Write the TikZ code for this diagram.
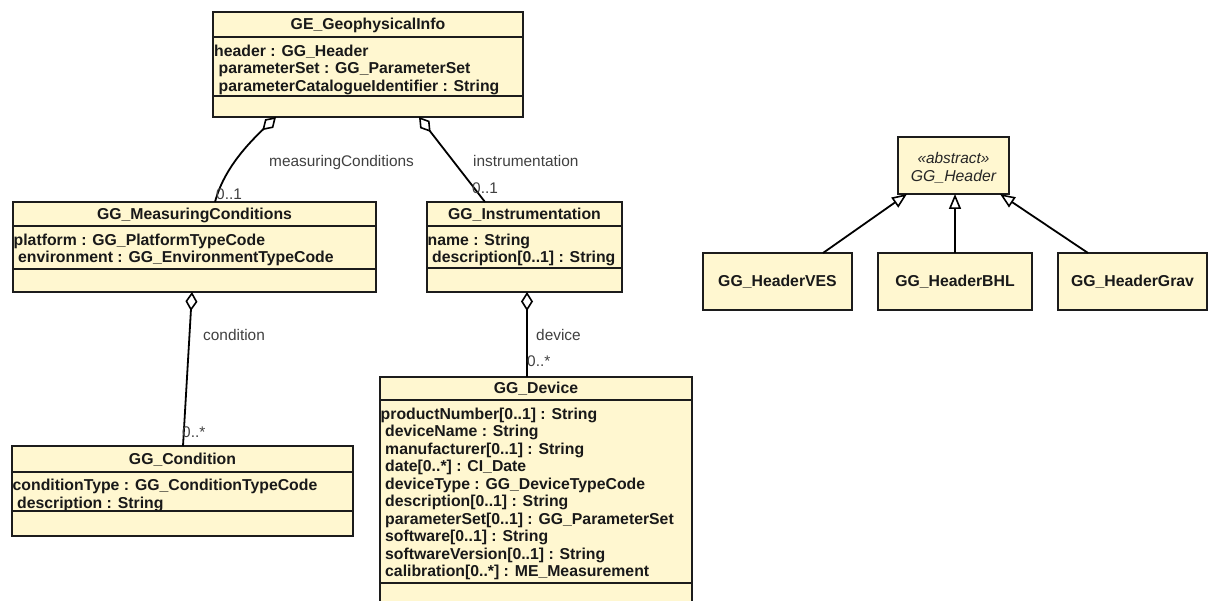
\documentclass[tikz,border=0pt]{standalone}
\usepackage{fontspec}
\setmainfont{Liberation Sans}
\usetikzlibrary{arrows.meta}
\definecolor{classfill}{RGB}{255,247,208}
\definecolor{edge}{RGB}{28,28,28}
% stack of attribute lines; the first line carries the baseline
\newcommand{\firstattr}[1]{\hbox{#1}}
\newcommand{\nextattr}[1]{\hbox{\hspace*{4.5pt}#1}}
\newcommand{\attrstack}[1]{\vtop{\baselineskip=17.5pt\lineskiplimit=-10pt #1}}

\begin{document}
\begin{tikzpicture}[x=1pt,y=-1pt,
  classbox/.style={draw=edge, line width=1.8pt, fill=classfill, rectangle,
    inner sep=0pt, outer sep=0pt, anchor=north west},
  sepline/.style={draw=edge, line width=1.6pt},
  cname/.style={font=\bfseries\fontsize{15.8}{17.5}\selectfont, anchor=base,
    inner sep=0pt, text=black!90},
  attrs/.style={font=\bfseries\fontsize{15.8}{17.5}\selectfont, anchor=base west,
    inner sep=0pt, text=black!90},
  role/.style={font=\fontsize{15.4}{17}\selectfont, anchor=base west,
    inner sep=0pt, text=black!75},
  agg/.style={draw=black, line width=1.8pt,
    {Diamond[open,length=19pt,width=12pt,line width=1.6pt]}-},
  gen/.style={draw=black, line width=1.8pt,
    -{Triangle[open,length=15pt,width=12pt,line width=1.6pt]}},
]
\useasboundingbox (0,0) rectangle (1208,601);
\clip (0,0) rectangle (1208,601);
\fill[white] (0,0) rectangle (1208,601);

% ---------- GE_GeophysicalInfo ----------
\node[classbox, minimum width=310pt, minimum height=105pt] (geo) at (213,12) {};
\draw[sepline] ([yshift=-25pt]geo.north west) -- ([yshift=-25pt]geo.north east);
\draw[sepline] ([yshift=-84pt]geo.north west) -- ([yshift=-84pt]geo.north east);
\node[cname] (geo-n) at (368,30) {GE\_GeophysicalInfo};
\node[attrs] (geo-a) at (214,56.5) {\attrstack{%
  \firstattr{header : GG\_Header}
  \nextattr{parameterSet : GG\_ParameterSet}
  \nextattr{parameterCatalogueIdentifier : String}}};

% ---------- GG_MeasuringConditions ----------
\node[classbox, minimum width=363pt, minimum height=90pt] (meas) at (13,202) {};
\draw[sepline] ([yshift=-24pt]meas.north west) -- ([yshift=-24pt]meas.north east);
\draw[sepline] ([yshift=-67pt]meas.north west) -- ([yshift=-67pt]meas.north east);
\node[cname] (meas-n) at (194.5,219.5) {GG\_MeasuringConditions};
\node[attrs] (meas-a) at (13.5,245.5) {\attrstack{%
  \firstattr{platform : GG\_PlatformTypeCode}
  \nextattr{environment : GG\_EnvironmentTypeCode}}};

% ---------- GG_Instrumentation ----------
\node[classbox, minimum width=195pt, minimum height=90pt] (instr) at (427,202) {};
\draw[sepline] ([yshift=-24pt]instr.north west) -- ([yshift=-24pt]instr.north east);
\draw[sepline] ([yshift=-66pt]instr.north west) -- ([yshift=-66pt]instr.north east);
\node[cname] (instr-n) at (524.5,219.5) {GG\_Instrumentation};
\node[attrs] (instr-a) at (427.5,245.5) {\attrstack{%
  \firstattr{name : String}
  \nextattr{description[0..1] : String}}};

% ---------- GG_Condition ----------
\node[classbox, minimum width=341pt, minimum height=90pt] (cond) at (12,446) {};
\draw[sepline] ([yshift=-26pt]cond.north west) -- ([yshift=-26pt]cond.north east);
\draw[sepline] ([yshift=-65pt]cond.north west) -- ([yshift=-65pt]cond.north east);
\node[cname] (cond-n) at (182.5,464.5) {GG\_Condition};
\node[attrs] (cond-a) at (12.5,490.5) {\attrstack{%
  \firstattr{conditionType : GG\_ConditionTypeCode}
  \nextattr{description : String}}};

% ---------- GG_Device ----------
\node[classbox, minimum width=312pt, minimum height=250pt] (dev) at (380,377) {};
\draw[sepline] ([yshift=-23pt]dev.north west) -- ([yshift=-23pt]dev.north east);
\draw[sepline] ([yshift=-206pt]dev.north west) -- ([yshift=-206pt]dev.north east);
\node[cname] (dev-n) at (536,394) {GG\_Device};
\node[attrs] (dev-a) at (380.5,419.5) {\attrstack{%
  \firstattr{productNumber[0..1] : String}
  \nextattr{deviceName : String}
  \nextattr{manufacturer[0..1] : String}
  \nextattr{date[0..*] : CI\_Date}
  \nextattr{deviceType : GG\_DeviceTypeCode}
  \nextattr{description[0..1] : String}
  \nextattr{parameterSet[0..1] : GG\_ParameterSet}
  \nextattr{software[0..1] : String}
  \nextattr{softwareVersion[0..1] : String}
  \nextattr{calibration[0..*] : ME\_Measurement}}};

% ---------- header hierarchy ----------
\node[classbox, minimum width=111pt, minimum height=57pt] (hdr) at (898,137) {};
\node[font=\itshape\fontsize{15.4}{17}\selectfont, anchor=base, inner sep=0pt,
  text=black!85] (hdr-s) at (953.5,164) {«abstract»};
\node[font=\itshape\fontsize{15.8}{17}\selectfont, anchor=base, inner sep=0pt,
  text=black!85] (hdr-n) at (953.5,182) {GG\_Header};

\node[classbox, minimum width=149pt, minimum height=57pt] (ves) at (703,253) {};
\node[cname] (ves-n) at (777.5,287) {GG\_HeaderVES};
\node[classbox, minimum width=154pt, minimum height=57pt] (bhl) at (878,253) {};
\node[cname] (bhl-n) at (955,287) {GG\_HeaderBHL};
\node[classbox, minimum width=149pt, minimum height=57pt] (grav) at (1058,253) {};
\node[cname] (grav-n) at (1132.5,287) {GG\_HeaderGrav};

% ---------- generalizations ----------
\draw[gen] ([xshift=120pt]ves.north west) -- ([xshift=9pt]hdr.south west);
\draw[gen] (bhl.north) -- (bhl.north |- hdr.south);
\draw[gen] ([xshift=30pt]grav.north west) -- ([xshift=102pt]hdr.south west);

% ---------- aggregations ----------
\draw[agg] ([xshift=63pt]geo.south west)
  .. controls (250,142) and (224,168) .. ([xshift=202pt]meas.north west);
\draw[agg] ([xshift=206pt]geo.south west) -- ([xshift=58pt]instr.north west);
\draw[agg] ([xshift=179pt]meas.south west) -- ([xshift=171pt]cond.north west);
\draw[agg] ([xshift=100pt]instr.south west) -- ([xshift=147pt]dev.north west);

% ---------- role names and multiplicities ----------
\node[role] (r-mc) at (269,167) {measuringConditions};
\node[role] (m-mc) at (216,200) {0..1};
\node[role] (r-in) at (473,167) {instrumentation};
\node[role] (m-in) at (472,194) {0..1};
\node[role] (r-co) at (203,341) {condition};
\node[role] (m-co) at (182,438) {0..*};
\node[role] (r-dv) at (536,341) {device};
\node[role] (m-dv) at (527,367) {0..*};
\end{tikzpicture}
\end{document}
